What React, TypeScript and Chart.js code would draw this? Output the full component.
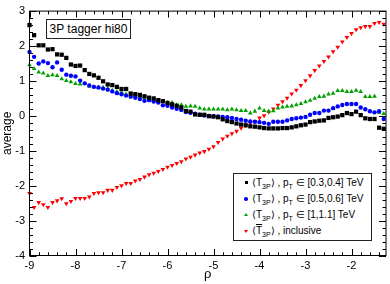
import React, { useEffect, useRef } from "react";
import { Chart, registerables } from "chart.js";

Chart.register(...registerables);

// rho bin positions
const rho = [
  -9.0, -8.9, -8.8, -8.7, -8.6, -8.5, -8.4, -8.3, -8.2, -8.1,
  -8.0, -7.9, -7.8, -7.7, -7.6, -7.5, -7.4, -7.3, -7.2, -7.1,
  -7.0, -6.9, -6.8, -6.7, -6.6, -6.5, -6.4, -6.3, -6.2, -6.1,
  -6.0, -5.9, -5.8, -5.7, -5.6, -5.5, -5.4, -5.3, -5.2, -5.1,
  -5.0, -4.9, -4.8, -4.7, -4.6, -4.5, -4.4, -4.3, -4.2, -4.1,
  -4.0, -3.9, -3.8, -3.7, -3.6, -3.5, -3.4, -3.3, -3.2, -3.1,
  -3.0, -2.9, -2.8, -2.7, -2.6, -2.5, -2.4, -2.3, -2.2, -2.1,
  -2.0, -1.9, -1.8, -1.7, -1.6, -1.5, -1.4, -1.3,
];

// <T3P>, pT in [0.3,0.4] TeV (black squares)
const ptLow = [
  2.60, 2.31, 2.02, 2.02, 1.90, 1.91, 1.76, 1.75, 1.66, 1.47,
  1.43, 1.44, 1.31, 1.20, 1.16, 1.09, 0.99, 0.90, 0.88, 0.83,
  0.77, 0.77, 0.64, 0.62, 0.60, 0.56, 0.52, 0.50, 0.45, 0.42,
  0.37, 0.33, 0.29, 0.24, 0.14, 0.12, 0.04, 0.03, 0.03, -0.01,
  -0.02, -0.04, -0.10, -0.15, -0.18, -0.22, -0.25, -0.27, -0.30, -0.31,
  -0.33, -0.35, -0.36, -0.36, -0.36, -0.35, -0.35, -0.33, -0.30, -0.27,
  -0.25, -0.18, -0.16, -0.14, -0.13, -0.06, -0.04, -0.02, 0.02, 0.08,
  0.05, 0.12, 0.02, -0.07, -0.09, -0.09, -0.34, -0.37,
];

// <T3P>, pT in [0.5,0.6] TeV (blue circles)
const ptMid = [
  1.83, 1.69, 1.50, 1.56, 1.51, 1.39, 1.53, 1.32, 1.18, 1.15,
  1.13, 1.01, 0.93, 0.87, 0.83, 0.81, 0.78, 0.75, 0.70, 0.65,
  0.62, 0.58, 0.55, 0.52, 0.48, 0.43, 0.45, 0.41, 0.38, 0.30,
  0.29, 0.24, 0.20, 0.17, 0.11, 0.09, 0.06, 0.03, 0.01, 0.00,
  -0.01, -0.02, -0.03, -0.04, -0.06, -0.09, -0.11, -0.14, -0.16, -0.17,
  -0.18, -0.20, -0.23, -0.17, -0.17, -0.17, -0.13, -0.09, -0.07, -0.05,
  -0.03, 0.03, 0.08, 0.08, 0.15, 0.15, 0.22, 0.27, 0.31, 0.34,
  0.34, 0.34, 0.24, 0.19, 0.13, 0.10, 0.13, -0.09,
];

// <T3P>, pT in [1,1.1] TeV (green triangles)
const ptHigh = [
  1.46, 1.35, 1.25, 1.22, 1.15, 1.17, 1.15, 1.06, 1.01, 0.97,
  0.92, 0.91, 0.92, 0.85, 0.83, 0.81, 0.81, 0.78, 0.73, 0.69,
  0.67, 0.62, 0.59, 0.56, 0.55, 0.53, 0.50, 0.45, 0.43, 0.41,
  0.38, 0.38, 0.31, 0.31, 0.27, 0.28, 0.27, 0.22, 0.19, 0.19,
  0.19, 0.19, 0.19, 0.17, 0.19, 0.17, 0.15, 0.15, 0.08, 0.13,
  0.22, 0.15, 0.13, 0.14, 0.22, 0.25, 0.27, 0.28, 0.31, 0.35,
  0.40, 0.44, 0.50, 0.55, 0.56, 0.62, 0.64, 0.72, 0.72, 0.69,
  0.69, 0.73, 0.69, 0.55, 0.55, 0.56, 0.10, 0.06,
];

// <T3P-bar>, inclusive (red down triangles)
const inclusive = [
  -2.22, -2.62, -2.48, -2.54, -2.62, -2.48, -2.43, -2.37, -2.51, -2.45,
  -2.36, -2.36, -2.36, -2.32, -2.22, -2.20, -2.20, -2.13, -2.13, -2.05,
  -2.00, -1.93, -1.93, -1.86, -1.82, -1.75, -1.68, -1.64, -1.59, -1.53,
  -1.47, -1.42, -1.36, -1.31, -1.23, -1.18, -1.12, -1.06, -1.02, -0.95,
  -0.88, -0.76, -0.66, -0.58, -0.51, -0.44, -0.35, -0.28, -0.21, -0.16,
  -0.06, 0.01, 0.11, 0.20, 0.31, 0.41, 0.51, 0.63, 0.74, 0.87,
  1.01, 1.15, 1.30, 1.43, 1.56, 1.69, 1.84, 1.97, 2.12, 2.25,
  2.36, 2.47, 2.53, 2.56, 2.56, 2.65, 2.68, 2.63,
];

const xTicks = [-9, -8, -7, -6, -5, -4, -3, -2];
const yTicks = [-4, -3, -2, -1, 0, 1, 2, 3];
const xMin = -9;
const xMax = -1.25;
const yMin = -4;
const yMax = 3;

const legendRanges = ["[0.3,0.4] TeV", "[0.5,0.6] TeV", "[1,1.1] TeV"];
const legendInclusive = "inclusive";
const tagLabel = "3P tagger hi80";
const xTitle = "ρ";
const yTitle = "average";

const FONT = "'Liberation Sans', Arial, Helvetica, sans-serif";

const rootAxes = {
  id: "rootAxes",
  afterDraw(chart: any) {
    const { ctx, chartArea: a, scales } = chart;
    const xs = scales.x;
    const ys = scales.y;
    ctx.save();
    ctx.strokeStyle = "#000";
    ctx.lineWidth = 1;
    ctx.beginPath();
    // x ticks (bottom & top), inward
    for (let k = 0; k <= 40; k++) {
      const v = xMin + k * 0.2;
      if (v > xMax + 1e-6) break;
      const major = Math.abs(v - Math.round(v)) < 1e-6;
      const len = major ? 6.5 : 3.3;
      const px = Math.round(xs.getPixelForValue(v)) + 0.5;
      ctx.moveTo(px, a.bottom);
      ctx.lineTo(px, a.bottom - len);
      ctx.moveTo(px, a.top);
      ctx.lineTo(px, a.top + len);
    }
    // y ticks (left & right), inward
    for (let k = 0; k <= 35; k++) {
      const v = yMin + k * 0.2;
      if (v > yMax + 1e-6) break;
      const major = Math.abs(v - Math.round(v)) < 1e-6;
      const len = major ? 7 : 3.5;
      const py = Math.round(ys.getPixelForValue(v)) + 0.5;
      ctx.moveTo(a.left, py);
      ctx.lineTo(a.left + len, py);
      ctx.moveTo(a.right, py);
      ctx.lineTo(a.right - len, py);
    }
    ctx.stroke();
    ctx.strokeRect(a.left, a.top, a.right - a.left, a.bottom - a.top);
    ctx.restore();
  },
};

function makeData(ys: number[]) {
  return rho.map((x, i) => ({ x, y: ys[i] }));
}

const subStyle: React.CSSProperties = {
  fontSize: "7px",
  verticalAlign: "-2.5px",
  lineHeight: 0,
};

function Marker({ kind, color }: { kind: string; color: string }) {
  const base: React.CSSProperties = { position: "absolute", left: 0, top: 0 };
  if (kind === "square")
    return <div style={{ ...base, left: -1.5, top: -1.5, width: 3, height: 3, background: color }} />;
  if (kind === "circle")
    return (
      <div
        style={{ ...base, left: -1.75, top: -1.75, width: 3.5, height: 3.5, borderRadius: "50%", background: color }}
      />
    );
  if (kind === "up")
    return (
      <div
        style={{
          ...base,
          left: -2,
          top: -2,
          width: 0,
          height: 0,
          borderLeft: "2px solid transparent",
          borderRight: "2px solid transparent",
          borderBottom: `3.5px solid ${color}`,
        }}
      />
    );
  return (
    <div
      style={{
        ...base,
        left: -2,
        top: -1.5,
        width: 0,
        height: 0,
        borderLeft: "2px solid transparent",
        borderRight: "2px solid transparent",
        borderTop: `3.5px solid ${color}`,
      }}
    />
  );
}

export default function App() {
  const ref = useRef<HTMLCanvasElement | null>(null);

  useEffect(() => {
    const canvas = ref.current;
    if (!canvas) return;
    const common = { showLine: false, borderWidth: 0, clip: false as any };
    const chart = new Chart(canvas, {
      type: "scatter",
      data: {
        datasets: [
          {
            ...common,
            label: "pT [0.3,0.4]",
            data: makeData(ptLow),
            pointStyle: "rect",
            pointRadius: 3,
            backgroundColor: "#000000",
            borderColor: "#000000",
          },
          {
            ...common,
            label: "pT [0.5,0.6]",
            data: makeData(ptMid),
            pointStyle: "circle",
            pointRadius: 2.2,
            backgroundColor: "#0000ff",
            borderColor: "#0000ff",
          },
          {
            ...common,
            label: "pT [1,1.1]",
            data: makeData(ptHigh),
            pointStyle: "triangle",
            pointRadius: 2.7,
            backgroundColor: "#00a000",
            borderColor: "#00a000",
          },
          {
            ...common,
            label: "inclusive",
            data: makeData(inclusive),
            pointStyle: "triangle",
            pointRotation: 180,
            pointRadius: 2.7,
            backgroundColor: "#ff0000",
            borderColor: "#ff0000",
          },
        ] as any,
      },
      options: {
        animation: false,
        responsive: false,
        devicePixelRatio: 1,
        events: [],
        layout: { padding: { top: 5.5, right: 2.5, left: 0, bottom: 0 } },
        plugins: { legend: { display: false }, tooltip: { enabled: false } },
        scales: {
          x: {
            type: "linear",
            min: xMin,
            max: xMax,
            grid: { display: false, drawTicks: false },
            border: { display: false },
            ticks: {
              includeBounds: false,
              padding: 3.5,
              color: "#000",
              font: { family: FONT, size: 11 },
              maxRotation: 0,
              autoSkip: false,
            },
            afterBuildTicks: (s: any) => {
              s.ticks = xTicks.map((v) => ({ value: v }));
            },
            afterFit: (s: any) => {
              s.height = 28.5;
            },
            title: {
              display: true,
              text: xTitle,
              color: "#000",
              font: { family: FONT, size: 13 },
              padding: { top: 0, bottom: 1.5 },
            },
          },
          y: {
            type: "linear",
            min: yMin,
            max: yMax,
            grid: { display: false, drawTicks: false },
            border: { display: false },
            ticks: {
              includeBounds: false,
              padding: 4.5,
              color: "#000",
              font: { family: FONT, size: 11 },
              autoSkip: false,
            },
            afterBuildTicks: (s: any) => {
              s.ticks = yTicks.map((v) => ({ value: v }));
            },
            afterFit: (s: any) => {
              s.width = 29.5;
            },
            title: {
              display: true,
              text: yTitle,
              color: "#000",
              font: { family: FONT, size: 12 },
              padding: { top: 0.5, bottom: 0 },
            },
          },
        },
      } as any,
      plugins: [rootAxes as any],
    });
    return () => chart.destroy();
  }, []);

  const rows = [
    { kind: "square", color: "#000000" },
    { kind: "circle", color: "#0000ff" },
    { kind: "up", color: "#00a000" },
    { kind: "down", color: "#ff0000" },
  ];
  const rowCenters = [8.5, 25, 41, 57];

  return (
    <div
      style={{
        position: "absolute",
        left: 0,
        top: 0,
        width: 390,
        height: 284,
        background: "#fff",
        fontFamily: FONT,
        color: "#000",
      }}
    >
      <canvas ref={ref} width={390} height={284} style={{ position: "absolute", left: 0, top: 0, width: 390, height: 284 }} />
      <div
        style={{
          position: "absolute",
          left: 46,
          top: 18.5,
          width: 83,
          height: 18,
          border: "1px solid #222",
          background: "#fff",
          fontSize: 12,
          lineHeight: "18px",
          textAlign: "center",
          whiteSpace: "nowrap",
        }}
      >
        {tagLabel}
      </div>
      <div
        style={{
          position: "absolute",
          left: 233,
          top: 173,
          width: 137,
          height: 66,
          border: "1px solid #222",
          background: "#fff",
          fontSize: 10,
          whiteSpace: "nowrap",
        }}
      >
        {rows.map((r, i) => (
          <div key={i} style={{ position: "absolute", left: 0, top: rowCenters[i], width: "100%", height: 0 }}>
            <div style={{ position: "absolute", left: 12, top: 0 }}>
              <Marker kind={r.kind} color={r.color} />
            </div>
            <div style={{ position: "absolute", left: 18, top: -7, lineHeight: "13px" }}>
              {i < 3 ? (
                <span>
                  ⟨T<span style={subStyle}>3P</span>⟩ , p<span style={subStyle}>T</span> ∈ {legendRanges[i]}
                </span>
              ) : (
                <span>
                  ⟨<span style={{ textDecoration: "overline" }}>T</span>
                  <span style={subStyle}>3P</span>⟩ , {legendInclusive}
                </span>
              )}
            </div>
          </div>
        ))}
      </div>
    </div>
  );
}
